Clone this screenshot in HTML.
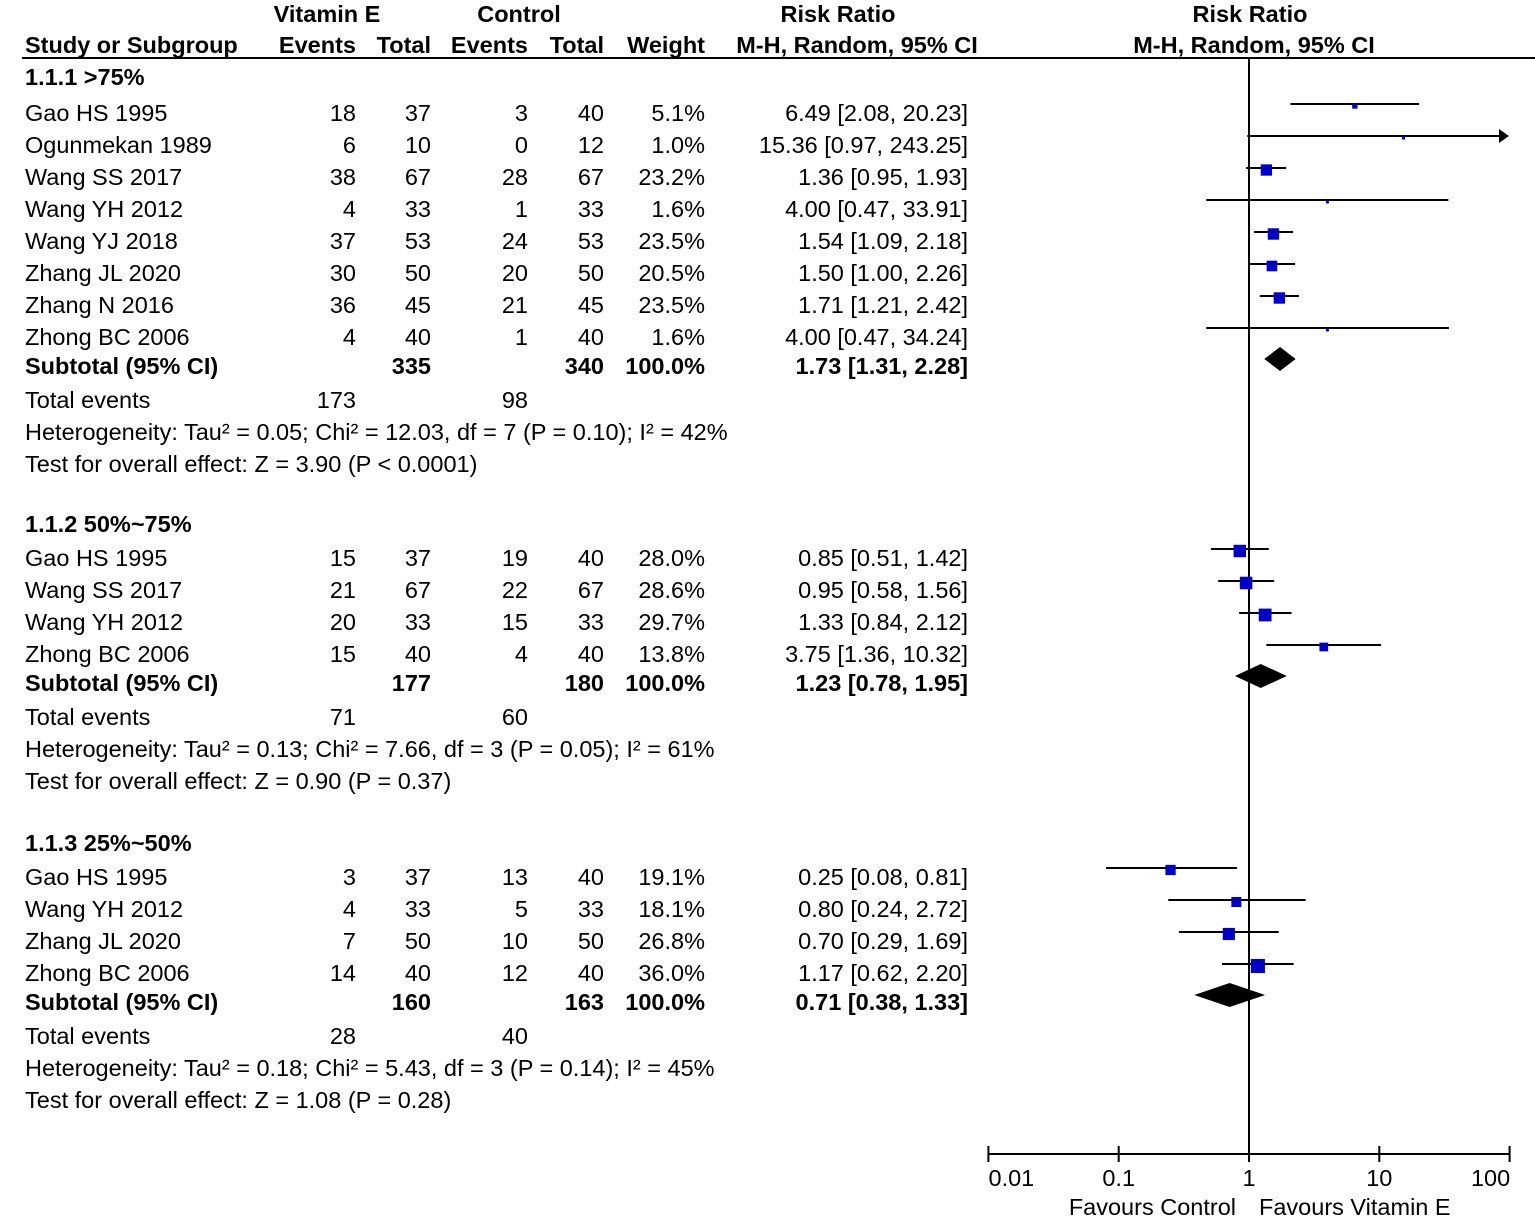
<!DOCTYPE html>
<html><head><meta charset="utf-8"><style>
body{margin:0;background:#fff}
svg{display:block;font-family:"Liberation Sans",Arial,sans-serif;font-size:23.5px}
.b{font-weight:bold}
</style></head><body>
<svg id="c" width="1535" height="1222" viewBox="0 0 1535 1222"></svg>
<script>
const groupNames=["1.1.1 >75%","1.1.2 50%~75%","1.1.3 25%~50%"];
const studies=[
["Gao HS 1995","Ogunmekan 1989","Wang SS 2017","Wang YH 2012","Wang YJ 2018","Zhang JL 2020","Zhang N 2016","Zhong BC 2006"],
["Gao HS 1995","Wang SS 2017","Wang YH 2012","Zhong BC 2006"],
["Gao HS 1995","Wang YH 2012","Zhang JL 2020","Zhong BC 2006"]];
const eEvents=[[18,6,38,4,37,30,36,4],[15,21,20,15],[3,4,7,14]];
const eTotal=[[37,10,67,33,53,50,45,40],[37,67,33,40],[37,33,50,40]];
const cEvents=[[3,0,28,1,24,20,21,1],[19,22,15,4],[13,5,10,12]];
const cTotal=[[40,12,67,33,53,50,45,40],[40,67,33,40],[40,33,50,40]];
const weights=[[5.1,1.0,23.2,1.6,23.5,20.5,23.5,1.6],[28.0,28.6,29.7,13.8],[19.1,18.1,26.8,36.0]];
const rr=[[6.49,15.36,1.36,4.00,1.54,1.50,1.71,4.00],[0.85,0.95,1.33,3.75],[0.25,0.80,0.70,1.17]];
const lo=[[2.08,0.97,0.95,0.47,1.09,1.00,1.21,0.47],[0.51,0.58,0.84,1.36],[0.08,0.24,0.29,0.62]];
const hi=[[20.23,243.25,1.93,33.91,2.18,2.26,2.42,34.24],[1.42,1.56,2.12,10.32],[0.81,2.72,1.69,2.20]];
const subE=[335,177,160], subC=[340,180,163];
const subRR=[1.73,1.23,0.71], subLo=[1.31,0.78,0.38], subHi=[2.28,1.95,1.33];
const totE=[173,71,28], totC=[98,60,40];
const hetText=["Heterogeneity: Tau² = 0.05; Chi² = 12.03, df = 7 (P = 0.10); I² = 42%","Heterogeneity: Tau² = 0.13; Chi² = 7.66, df = 3 (P = 0.05); I² = 61%","Heterogeneity: Tau² = 0.18; Chi² = 5.43, df = 3 (P = 0.14); I² = 45%"];
const zText=["Test for overall effect: Z = 3.90 (P < 0.0001)","Test for overall effect: Z = 0.90 (P = 0.37)","Test for overall effect: Z = 1.08 (P = 0.28)"];
const ticks=[0.01,0.1,1,10,100];
const tickLabels=["0.01","0.1","1","10","100"];

const svg=document.getElementById('c');
const NS='http://www.w3.org/2000/svg';
const X0=1249, DEC=130.3, XMIN=988, XMAX=1509;
function xs(v){return X0+DEC*Math.log10(v);}
function el(tag,attrs,parent){const e=document.createElementNS(NS,tag);for(const k in attrs)e.setAttribute(k,attrs[k]);(parent||svg).appendChild(e);return e;}
function txt(s,x,y,anchor,bold,name){const t=el('text',{x:x,y:y+8,'text-anchor':anchor||'start'});if(bold)t.setAttribute('class','b');t.textContent=s;


return t;}
const f2=v=>v.toFixed(2);
const ci=(a,b,c)=>f2(a)+" ["+f2(b)+", "+f2(c)+"]";

txt("Vitamin E",327,14,'middle',true,'header-vitamin-e');
txt("Control",519,14,'middle',true,'header-control');
txt("Risk Ratio",838,14,'middle',true,'header-risk-ratio');
txt("Risk Ratio",1250,14,'middle',true,'header-risk-ratio-plot');
txt("Study or Subgroup",25,45,'start',true,'header-study');
txt("Events",356,45,'end',true,'header-e-events');
txt("Total",431,45,'end',true,'header-e-total');
txt("Events",528,45,'end',true,'header-c-events');
txt("Total",604,45,'end',true,'header-c-total');
txt("Weight",705,45,'end',true,'header-weight');
txt("M-H, Random, 95% CI",857,45,'middle',true,'header-mh-ci');
txt("M-H, Random, 95% CI",1254,45,'middle',true,'header-mh-ci-plot');
let hl=el('line',{x1:22,y1:58,x2:1535,y2:58,stroke:'#000','stroke-width':2});


let vl=el('line',{x1:X0,y1:58,x2:X0,y2:1154,stroke:'#000','stroke-width':2});



const groupStart=[77,524,843];
const firstGap=[36,34,34];
groupNames.forEach((g,gi)=>{
  let y=groupStart[gi];
  txt(g,25,y,'start',true,'subgroup-title');
  y+=firstGap[gi];
  studies[gi].forEach((s,i)=>{
    txt(s,25,y,'start',false,'study-name');
    txt(String(eEvents[gi][i]),356,y,'end',false,'e-events');
    txt(String(eTotal[gi][i]),431,y,'end',false,'e-total');
    txt(String(cEvents[gi][i]),528,y,'end',false,'c-events');
    txt(String(cTotal[gi][i]),604,y,'end',false,'c-total');
    txt(weights[gi][i].toFixed(1)+"%",705,y,'end',false,'weight');
    txt(ci(rr[gi][i],lo[gi][i],hi[gi][i]),968,y,'end',false,'risk-ratio-ci');
    const ly=y-9;
    const x1=Math.max(XMIN,xs(lo[gi][i])), hv=hi[gi][i];
    const x2=hv>100?XMAX-4:xs(hv);
    let l=el('line',{x1:x1,y1:ly,x2:x2,y2:ly,stroke:'#000','stroke-width':2});
    
    
    if(hv>100){let a=el('polygon',{points:`${XMAX-10},${ly-7} ${XMAX},${ly} ${XMAX-10},${ly+7}`,fill:'#000'});
      
      }
    const sz=Math.max(3,Math.sqrt(weights[gi][i])*2.35);
    let r=el('rect',{x:xs(rr[gi][i])-sz/2,y:y-7-sz/2,width:sz,height:sz,fill:'#0000c8'});
    
    
    y+=32;
  });
  y-=3;
  txt("Subtotal (95% CI)",25,y,'start',true,'subtotal-label');
  txt(String(subE[gi]),431,y,'end',true,'subtotal-e-total');
  txt(String(subC[gi]),604,y,'end',true,'subtotal-c-total');
  txt("100.0%",705,y,'end',true,'subtotal-weight');
  txt(ci(subRR[gi],subLo[gi],subHi[gi]),968,y,'end',true,'subtotal-ci');
  const dy=y-7, xl=xs(subLo[gi]), xr=xs(subHi[gi]), xc=xs(subRR[gi]);
  let d=el('polygon',{points:`${xl},${dy} ${xc},${dy-12} ${xr},${dy} ${xc},${dy+12}`,fill:'#000'});
  
  
  y+=34;
  txt("Total events",25,y,'start',false,'total-events-label');
  txt(String(totE[gi]),356,y,'end',false,'total-e-events');
  txt(String(totC[gi]),528,y,'end',false,'total-c-events');
  y+=32;
  txt(hetText[gi],25,y,'start',false,'heterogeneity');
  y+=32;
  txt(zText[gi],25,y,'start',false,'overall-effect');
});

let ax=el('line',{x1:XMIN,y1:1154,x2:XMAX,y2:1154,stroke:'#000','stroke-width':2});


ticks.forEach((t,i)=>{
  let tk=el('line',{x1:xs(t),y1:1146,x2:xs(t),y2:1162,stroke:'#000','stroke-width':2});
  
  
  txt(tickLabels[i],xs(t)+(i==0?23:i==4?-19:0),1178,'middle',false,'x-tick-label');
});
txt("Favours Control",1236,1207,'end',false,'favours-control');
txt("Favours Vitamin E",1259,1207,'start',false,'favours-vitamin-e');
</script>
</body></html>
